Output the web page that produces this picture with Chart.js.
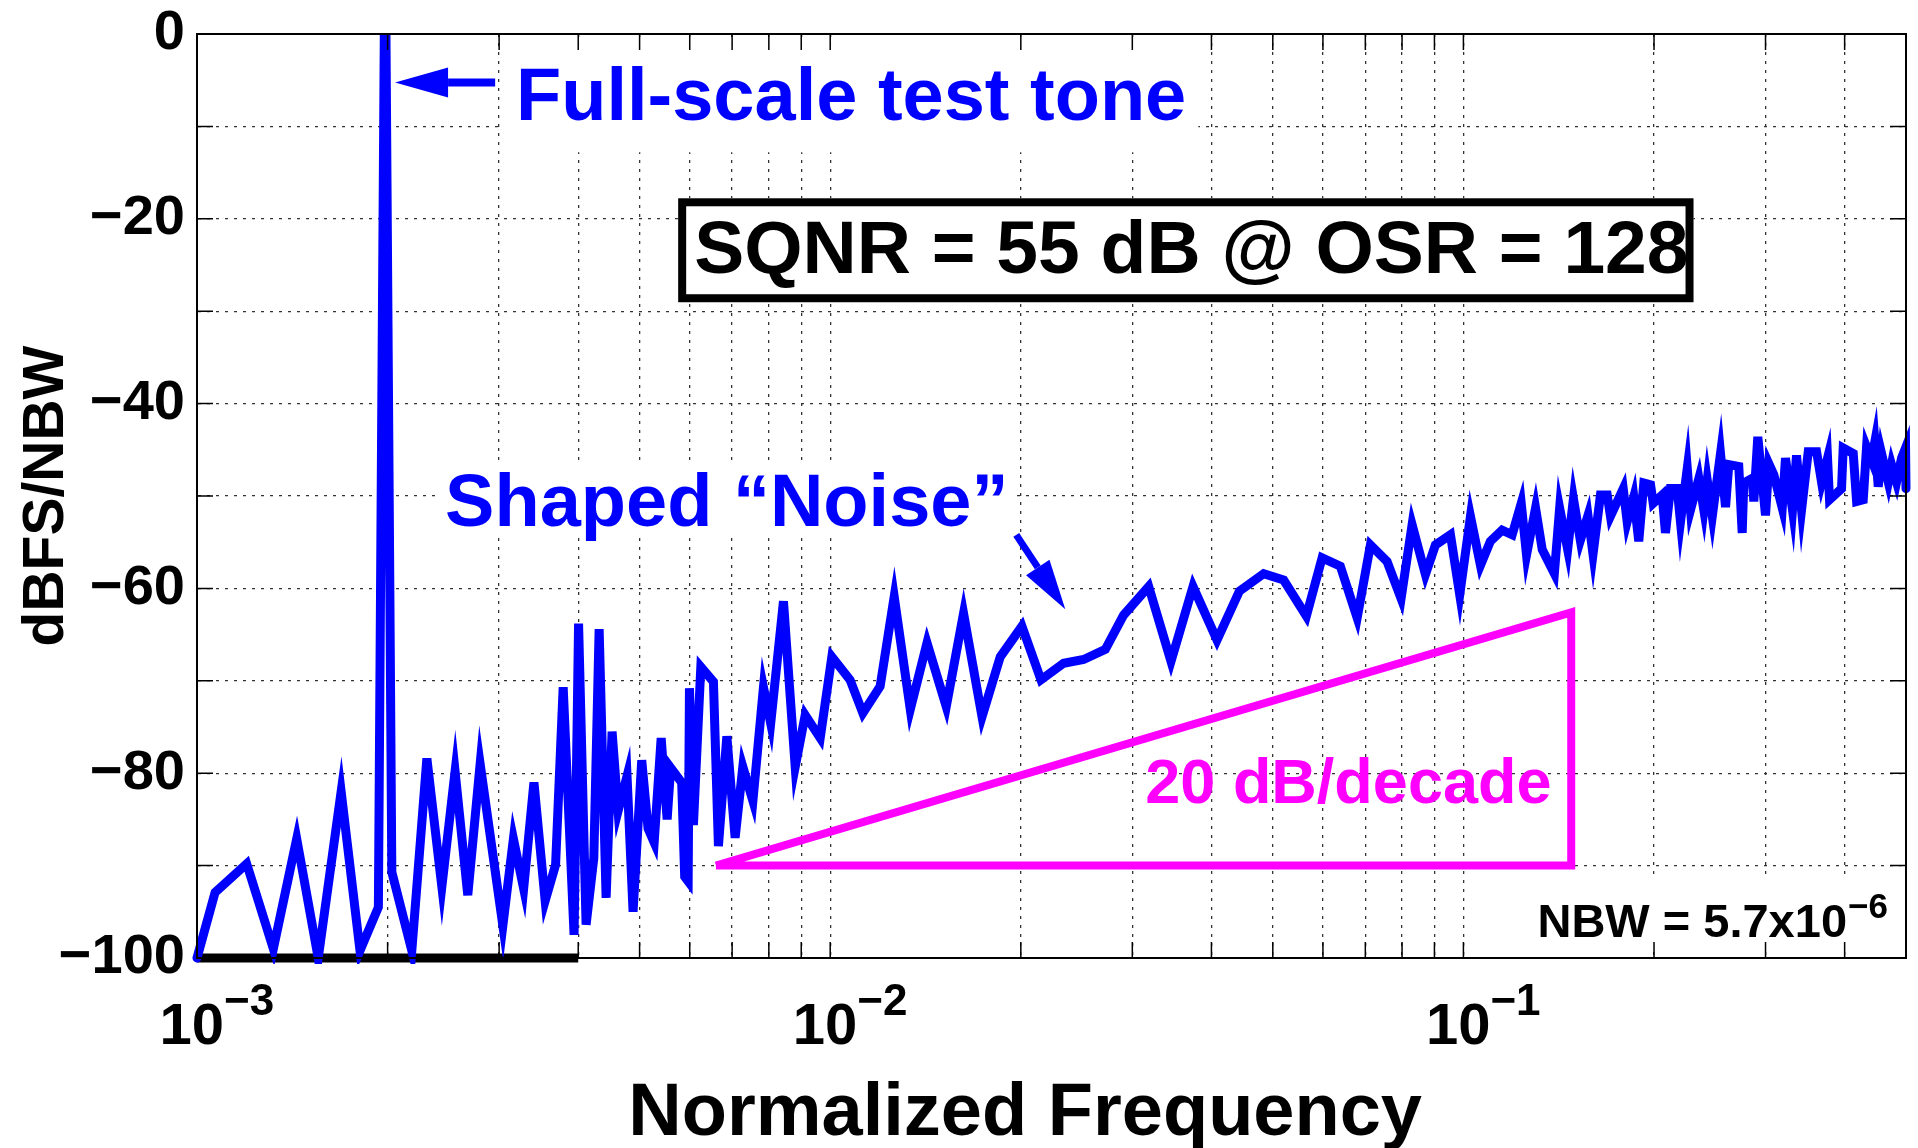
<!DOCTYPE html>
<html>
<head>
<meta charset="utf-8">
<script src="https://cdn.jsdelivr.net/npm/chart.js@4.4.1/dist/chart.umd.min.js"></script>
<style>
  html, body { margin: 0; padding: 0; background: #fff; }
  #wrap { width: 1918px; height: 1148px; }
</style>
</head>
<body>
<div id="wrap"><canvas id="psdCanv"></canvas></div>
<script>
// normalized frequency of each plotted bin
const freq = [
  1.000e-3, 1.068e-3, 1.198e-3, 1.320e-3, 1.437e-3, 1.554e-3, 1.689e-3, 1.809e-3, 1.934e-3, 1.976e-3, 1.988e-3,
  2.031e-3, 2.184e-3, 2.307e-3, 2.436e-3, 2.556e-3, 2.677e-3, 2.800e-3, 3.041e-3, 3.160e-3, 3.280e-3,
  3.405e-3, 3.547e-3, 3.684e-3, 3.787e-3, 3.940e-3, 4.005e-3, 4.116e-3, 4.233e-3, 4.316e-3, 4.427e-3,
  4.524e-3, 4.624e-3, 4.777e-3, 4.883e-3, 5.039e-3, 5.157e-3, 5.272e-3, 5.408e-3, 5.527e-3, 5.598e-3,
  5.827e-3, 5.891e-3, 5.966e-3, 5.994e-3, 6.081e-3, 6.247e-3, 6.540e-3, 6.660e-3, 6.867e-3, 7.077e-3,
  7.278e-3, 7.549e-3, 7.845e-3, 8.054e-3, 8.437e-3, 8.805e-3, 9.131e-3, 9.643e-3, 1.006e-2, 1.075e-2,
  1.126e-2, 1.199e-2, 1.262e-2, 1.338e-2, 1.422e-2, 1.525e-2, 1.624e-2, 1.737e-2, 1.856e-2, 2.008e-2,
  2.152e-2, 2.337e-2, 2.513e-2, 2.720e-2, 2.906e-2, 3.184e-2, 3.453e-2, 3.741e-2, 4.082e-2, 4.428e-2,
  4.837e-2, 5.202e-2, 5.649e-2, 5.982e-2, 6.392e-2, 6.795e-2, 7.131e-2, 7.577e-2, 7.972e-2, 8.298e-2,
  8.710e-2, 9.032e-2, 9.540e-2, 9.867e-2, 0.1026, 0.1064, 0.1103, 0.1151, 0.1194, 0.1234,
  0.1258, 0.1300, 0.1332, 0.1392, 0.1419, 0.1461, 0.1492, 0.1530, 0.1573, 0.1602,
  0.1646, 0.1687, 0.1707, 0.1788, 0.1814, 0.1858, 0.1892, 0.1927, 0.1975, 0.1994,
  0.2060, 0.2085, 0.2123, 0.2176, 0.2202, 0.2257, 0.2284, 0.2354, 0.2397, 0.2427,
  0.2472, 0.2547, 0.2594, 0.2625, 0.2722, 0.2756, 0.2772, 0.2858, 0.2875, 0.2917,
  0.3000, 0.3036, 0.3092, 0.3188, 0.3226, 0.3309, 0.3358, 0.3420, 0.3504, 0.3612,
  0.3678, 0.3759, 0.3786, 0.3955, 0.3979, 0.4127, 0.4178, 0.4280, 0.4332, 0.4411,
  0.4465, 0.4520, 0.4575, 0.4688, 0.4744, 0.4831, 0.4920, 0.4992, 0.5000
];

// PSD in dBFS/NBW at each bin
const psd = [
  -100, -92.9, -89.8, -99.0, -87.1, -100, -82.0, -99.2, -94.5, 0, 0,
  -90.7, -99.2, -78.4, -92.3, -79.8, -93.2, -79.0, -96.5, -87.1, -92.5,
  -81.0, -93.8, -89.9, -70.7, -97.5, -63.8, -96.4, -89.2, -64.4, -93.5,
  -75.5, -84.1, -80.3, -95.0, -78.6, -86.0, -87.5, -76.2, -85.0, -79.4,
  -81.0, -91.2, -91.7, -70.8, -85.6, -68.5, -70.1, -87.9, -76.0, -87.0,
  -79.3, -83.0, -70.7, -74.6, -61.4, -79.3, -73.7, -76.2, -67.4, -69.9,
  -73.5, -70.6, -60.9, -73.1, -65.9, -72.8, -62.7, -73.9, -67.4, -64.1,
  -69.9, -68.1, -67.7, -66.6, -62.9, -59.8, -67.9, -59.8, -65.6, -60.3,
  -58.4, -59.1, -63.0, -56.7, -57.6, -63.2, -55.3, -57.1, -61.1, -53.1,
  -58.5, -55.3, -54.2, -60.7, -52.2, -57.5, -54.9, -53.7, -54.2, -50.8,
  -56.4, -51.3, -55.8, -58.4, -51.3, -55.8, -50.3, -54.8, -52.1, -56.3,
  -49.9, -49.9, -52.2, -49.2, -52.8, -50.1, -54.9, -48.6, -48.8, -50.8,
  -49.9, -54.0, -49.2, -49.2, -52.8, -47.0, -51.5, -48.1, -51.5, -48.3,
  -52.2, -45.4, -51.2, -46.6, -46.8, -54.0, -48.6, -48.1, -50.6, -43.6,
  -52.1, -46.5, -47.7, -51.3, -45.9, -51.5, -45.6, -51.5, -45.2, -45.2,
  -48.5, -45.9, -50.4, -49.2, -44.8, -45.4, -50.6, -50.4, -44.7, -46.1,
  -44.1, -49.0, -45.4, -48.5, -46.6, -48.5, -45.9, -44.8, -49.2
];

// bins below the plot floor, drawn along -100 dB
const floorFreq = [1e-3, 4e-3];
const floorDb = [-100, -100];

// 20 dB/decade guide triangle
const slopeFreq = [6.6e-3, 0.148, 0.148, 6.6e-3];
const slopeDb = [-90, -62.6, -90, -90];

// axis ticks
const xGrid = [0.001, 0.002, 0.003, 0.004, 0.005, 0.006, 0.007, 0.008, 0.009,
  0.01, 0.02, 0.03, 0.04, 0.05, 0.06, 0.07, 0.08, 0.09,
  0.1, 0.2, 0.3, 0.4, 0.5];
const xLabelVals = [0.001, 0.01, 0.1];
const xLabelExp = ['\u22123', '\u22122', '\u22121'];
const yGrid = [-100, -90, -80, -70, -60, -50, -40, -30, -20, -10, 0];
const yLabelText = ['\u2212100', '', '\u221280', '', '\u221260', '', '\u221240', '', '\u221220', '', '0'];

const FONT = '"Liberation Sans", Arial, sans-serif';
const BLUE = '#0000ff';

// annotation anchors in data coordinates (freq, dB)
const notes = {
  tone: { f: 3.19e-3, db: -9.35, text: 'Full-scale test tone' },
  toneBox: [3.044e-3, -1.0, 3.814e-2, -12.8],
  toneArrow: { tail: [2.957e-3, -5.25], tip: [2.055e-3, -5.25] },
  sqnr: { f: 6.098e-3, db: -25.9, text: 'SQNR = 55 dB @ OSR = 128' },
  sqnrBox: [5.753e-3, -17.78, 0.2309, -29.03],
  noise: { f: 2.465e-3, db: -53.24, text: 'Shaped \u201cNoise\u201d' },
  noiseBox: [2.393e-3, -46.65, 1.967e-2, -54.54],
  noiseArrow: { tail: [1.967e-2, -54.2], tip: [2.351e-2, -62.25] },
  slope: { f: 3.145e-2, db: -83.2, text: '20 dB/decade' },
  nbw: { f: 0.1309, db: -97.7, text: 'NBW = 5.7x10', exp: '\u22126' },
  nbwBox: [0.1267, -91.3, 0.4903, -99.1],
  xTitle: { f: 2.032e-2, text: 'Normalized Frequency' }
};

function arrow(ctx, x0, y0, x1, y1, headLen, headHalf, shaft) {
  const ang = Math.atan2(y1 - y0, x1 - x0);
  const bx = x1 - headLen * Math.cos(ang), by = y1 - headLen * Math.sin(ang);
  ctx.save();
  ctx.strokeStyle = BLUE; ctx.fillStyle = BLUE;
  ctx.lineWidth = shaft;
  ctx.beginPath(); ctx.moveTo(x0, y0); ctx.lineTo(bx, by); ctx.stroke();
  ctx.beginPath();
  ctx.moveTo(x1, y1);
  ctx.lineTo(bx + headHalf * Math.sin(ang), by - headHalf * Math.cos(ang));
  ctx.lineTo(bx - headHalf * Math.sin(ang), by + headHalf * Math.cos(ang));
  ctx.closePath(); ctx.fill();
  ctx.restore();
}

const annot = {
  id: 'annot',
  beforeDatasetsDraw(chart) {
    const { ctx, scales: { x, y } } = chart;
    ctx.save();
    ctx.fillStyle = '#fff';
    [notes.toneBox, notes.noiseBox, notes.nbwBox].forEach(b => {
      const l = x.getPixelForValue(b[0]), t = y.getPixelForValue(b[1]);
      const r = x.getPixelForValue(b[2]), btm = y.getPixelForValue(b[3]);
      ctx.fillRect(l, t, r - l, btm - t);
    });
    ctx.restore();
  },
  afterDatasetsDraw(chart) {
    const { ctx, chartArea: a, scales: { x, y } } = chart;
    const px = (f, db) => [x.getPixelForValue(f), y.getPixelForValue(db)];
    ctx.save();

    // inner tick marks + box
    ctx.strokeStyle = '#000'; ctx.lineWidth = 1.5;
    ctx.beginPath();
    xGrid.forEach(v => {
      const p = x.getPixelForValue(v);
      ctx.moveTo(p, a.bottom); ctx.lineTo(p, a.bottom - 16);
      ctx.moveTo(p, a.top); ctx.lineTo(p, a.top + 16);
    });
    yGrid.forEach(v => {
      const p = y.getPixelForValue(v);
      ctx.moveTo(a.left, p); ctx.lineTo(a.left + 16, p);
      ctx.moveTo(a.right, p); ctx.lineTo(a.right - 16, p);
    });
    ctx.stroke();
    ctx.lineWidth = 2;
    ctx.strokeRect(a.left, a.top, a.right - a.left, a.bottom - a.top);

    ctx.textBaseline = 'alphabetic';
    ctx.textAlign = 'left';

    // tone label + arrow
    ctx.fillStyle = BLUE;
    ctx.font = 'bold 74px ' + FONT;
    let p = px(notes.tone.f, notes.tone.db);
    ctx.fillText(notes.tone.text, p[0], p[1]);
    let t0 = px(...notes.toneArrow.tail), t1 = px(...notes.toneArrow.tip);
    arrow(ctx, t0[0], t0[1], t1[0], t1[1], 53, 15, 8);

    // shaped noise label + arrow
    p = px(notes.noise.f, notes.noise.db);
    ctx.fillText(notes.noise.text, p[0], p[1]);
    t0 = px(...notes.noiseArrow.tail); t1 = px(...notes.noiseArrow.tip);
    arrow(ctx, t0[0], t0[1], t1[0], t1[1], 50, 14, 7);

    // SQNR box
    const b = notes.sqnrBox;
    const bl = x.getPixelForValue(b[0]), bt = y.getPixelForValue(b[1]);
    const br = x.getPixelForValue(b[2]), bb = y.getPixelForValue(b[3]);
    ctx.fillStyle = '#fff';
    ctx.fillRect(bl, bt, br - bl, bb - bt);
    ctx.strokeStyle = '#000'; ctx.lineWidth = 8;
    ctx.strokeRect(bl + 4, bt + 4, br - bl - 8, bb - bt - 8);
    ctx.fillStyle = '#000';
    ctx.font = 'bold 75px ' + FONT;
    p = px(notes.sqnr.f, notes.sqnr.db);
    ctx.fillText(notes.sqnr.text, p[0], p[1]);

    // slope label
    ctx.fillStyle = '#ff00ff';
    ctx.font = 'bold 63px ' + FONT;
    p = px(notes.slope.f, notes.slope.db);
    ctx.fillText(notes.slope.text, p[0], p[1]);

    // NBW label
    ctx.fillStyle = '#000';
    ctx.font = 'bold 47px ' + FONT;
    p = px(notes.nbw.f, notes.nbw.db);
    ctx.fillText(notes.nbw.text, p[0], p[1]);
    const w = ctx.measureText(notes.nbw.text).width;
    ctx.font = 'bold 35px ' + FONT;
    ctx.fillText(notes.nbw.exp, p[0] + w + 1, p[1] - 19);

    ctx.restore();
  },
  afterDraw(chart) {
    const { ctx, chartArea: a, scales: { x } } = chart;
    ctx.save();
    ctx.fillStyle = '#000';
    ctx.textBaseline = 'alphabetic';
    xLabelVals.forEach((v, i) => {
      const p = x.getPixelForValue(v);
      ctx.font = 'bold 58px ' + FONT;
      ctx.textAlign = 'right';
      ctx.fillText('10', p + 27, a.bottom + 86);
      ctx.font = 'bold 44px ' + FONT;
      ctx.textAlign = 'left';
      ctx.fillText(xLabelExp[i], p + 27, a.bottom + 57);
    });
    ctx.font = 'bold 74px ' + FONT;
    ctx.textAlign = 'center';
    ctx.fillText(notes.xTitle.text, x.getPixelForValue(notes.xTitle.f), a.bottom + 177);
    ctx.restore();
  }
};

new Chart(document.getElementById('psdCanv'), {
  type: 'line',
  data: {
    datasets: [
      {
        data: freq.map((f, i) => ({ x: f, y: psd[i] })),
        borderColor: BLUE,
        borderWidth: 9,
        borderCapStyle: 'round',
        pointRadius: 0,
        tension: 0,
        order: 0,
        clip: { left: 6, right: 6, top: 0, bottom: 6 }
      },
      {
        data: floorFreq.map((f, i) => ({ x: f, y: floorDb[i] })),
        borderColor: '#000',
        borderWidth: 9,
        pointRadius: 0,
        order: 1,
        clip: 8
      },
      {
        data: slopeFreq.map((f, i) => ({ x: f, y: slopeDb[i] })),
        borderColor: '#ff00ff',
        borderWidth: 8,
        pointRadius: 0,
        tension: 0,
        order: 2
      }
    ]
  },
  options: {
    responsive: true,
    maintainAspectRatio: false,
    animation: false,
    devicePixelRatio: 1,
    layout: { padding: { top: 34, right: 12, left: 0, bottom: 0 } },
    plugins: {
      legend: { display: false },
      tooltip: { enabled: false }
    },
    scales: {
      x: {
        type: 'logarithmic',
        min: 0.001,
        max: 0.5,
        afterBuildTicks: s => { s.ticks = xGrid.map(v => ({ value: v })); },
        afterFit: s => { s.height = 190; s.paddingLeft = 0; s.paddingRight = 0; },
        ticks: { display: false },
        grid: { color: '#333', lineWidth: 1.3, drawTicks: false },
        border: { display: true, color: '#000', width: 2, dash: [3, 6] }
      },
      y: {
        type: 'linear',
        min: -100,
        max: 0,
        afterBuildTicks: s => { s.ticks = yGrid.map(v => ({ value: v })); },
        afterFit: s => { s.width = 197; s.paddingTop = 0; s.paddingBottom = 0; },
        ticks: {
          autoSkip: false,
          padding: 12,
          color: '#000',
          font: { family: FONT, size: 56, weight: 'bold' },
          callback: v => yLabelText[yGrid.indexOf(v)]
        },
        grid: { color: '#333', lineWidth: 1.3, drawTicks: false },
        border: { display: true, color: '#000', width: 2, dash: [3, 6] },
        title: {
          display: true,
          text: 'dBFS/NBW',
          color: '#000',
          font: { family: FONT, size: 57, weight: 'bold' },
          padding: { top: 13, bottom: 0 }
        }
      }
    }
  },
  plugins: [annot]
});
</script>
</body>
</html>
